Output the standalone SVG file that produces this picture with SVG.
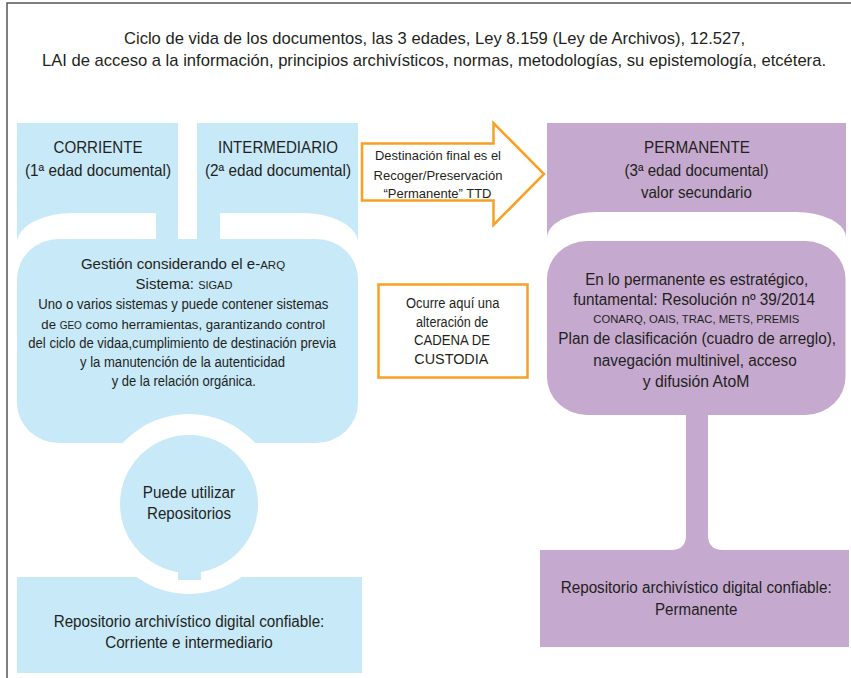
<svg xmlns="http://www.w3.org/2000/svg" width="851" height="678" viewBox="0 0 851 678">
<style>
text{font-family:"Liberation Sans",Arial,sans-serif;fill:#231f20;text-anchor:middle}
.t17{font-size:17px}
.t165{font-size:16.5px}
.t16{font-size:16px}
.t14{font-size:14px}
.t135{font-size:13.5px}
.blue{fill:#c8e9f8}
.purple{fill:#c5a9cf}
.white{fill:#ffffff}
.orange{fill:#ffffff;stroke:#f7a023;stroke-width:2.5}
</style>
<rect width="851" height="678" fill="#ffffff"/>
<path d="M7,678 V3 H851" fill="none" stroke="#555555" stroke-width="1.5"/>

<g id="title">
<text class="t17" x="434.5" y="43.5" textLength="621" lengthAdjust="spacingAndGlyphs">Ciclo de vida de los documentos, las 3 edades, Ley 8.159 (Ley de Archivos), 12.527,</text>
<text class="t17" x="434" y="65.5" textLength="784" lengthAdjust="spacingAndGlyphs">LAI de acceso a la información, principios archivísticos, normas, metodologías, su epistemología, etcétera.</text>
</g>

<g id="corriente">
<rect class="blue" x="17" y="123" width="161" height="130"/>
<text class="t165" x="98" y="153" textLength="89" lengthAdjust="spacingAndGlyphs">CORRIENTE</text>
<text class="t165" x="98" y="176" textLength="146" lengthAdjust="spacingAndGlyphs">(1ª edad documental)</text>
</g>

<g id="intermediario">
<rect class="blue" x="197" y="123" width="161" height="130"/>
<text class="t165" x="278" y="153" textLength="120" lengthAdjust="spacingAndGlyphs">INTERMEDIARIO</text>
<text class="t165" x="278" y="176" textLength="146" lengthAdjust="spacingAndGlyphs">(2ª edad documental)</text>
</g>

<g id="repositorio-corriente">
<rect class="blue" x="17" y="577" width="345" height="96"/>
<text class="t16" x="189" y="626.7" textLength="270.7" lengthAdjust="spacingAndGlyphs">Repositorio archivístico digital confiable:</text>
<text class="t16" x="189" y="648.3" textLength="167.7" lengthAdjust="spacingAndGlyphs">Corriente e intermediario</text>
</g>

<g id="gestion">
<path class="white" d="M17,262 V243 A56,30 0 0 1 73,213 H302 A56,30 0 0 1 358,243 V262 Z"/>
<rect class="blue" x="156" y="205" width="22" height="50"/>
<rect class="blue" x="197" y="205" width="23" height="50"/>
<rect class="blue" x="17" y="239" width="341" height="204" rx="42" ry="40"/>
<text style="font-size:15px" x="183" y="268.5">Gestión considerando el e-<tspan style="font-size:11.5px">ARQ</tspan></text>
<text style="font-size:15px" x="184" y="289">Sistema: <tspan style="font-size:11px">SIGAD</tspan></text>
<text class="t14" x="183.3" y="309" textLength="290" lengthAdjust="spacingAndGlyphs">Uno o varios sistemas y puede contener sistemas</text>
<text style="font-size:13.2px" x="183.3" y="328.5">de <tspan style="font-size:10px">GEO</tspan> como herramientas, garantizando control</text>
<text class="t14" x="182.2" y="347.7" textLength="307.7" lengthAdjust="spacingAndGlyphs">del ciclo de vidaa,cumplimiento de destinación previa</text>
<text class="t14" x="182.5" y="366.7" textLength="205" lengthAdjust="spacingAndGlyphs">y la manutención de la autenticidad</text>
<text class="t14" x="183.8" y="385.7" textLength="144.3" lengthAdjust="spacingAndGlyphs">y de la relación orgánica.</text>
</g>

<g id="repositorios">
<circle class="white" cx="189" cy="504" r="90"/>
<circle class="blue" cx="189" cy="504" r="69"/>
<text class="t16" x="189" y="497.7" textLength="92.3" lengthAdjust="spacingAndGlyphs">Puede utilizar</text>
<text class="t16" x="189" y="519.3" textLength="84" lengthAdjust="spacingAndGlyphs">Repositorios</text>
</g>

<g id="connectors">
<rect class="blue" x="178" y="566" width="23" height="14"/>
<path class="purple" d="M686,410 V535 Q686,550 671,550 H723 Q708,550 708,535 V410 Z"/>
</g>

<g id="destinacion">
<path class="orange" d="M362,143.5 H493.5 V123 L544,174 L493.5,225 V200.5 H362 Z"/>
<text class="t135" x="438" y="160" textLength="126" lengthAdjust="spacingAndGlyphs">Destinación final es el</text>
<text class="t135" x="438" y="179.5" textLength="129" lengthAdjust="spacingAndGlyphs">Recoger/Preservación</text>
<text class="t135" x="437.5" y="198" textLength="108" lengthAdjust="spacingAndGlyphs">“Permanente” TTD</text>
</g>

<g id="custodia">
<rect class="orange" x="378.5" y="284.5" width="149" height="93"/>
<text class="t14" x="452.7" y="307.7" textLength="93.3" lengthAdjust="spacingAndGlyphs">Ocurre aquí una</text>
<text class="t14" x="452.2" y="326.7" textLength="72.3" lengthAdjust="spacingAndGlyphs">alteración de</text>
<text class="t14" x="452" y="345" textLength="76" lengthAdjust="spacingAndGlyphs">CADENA DE</text>
<text class="t14" x="451.3" y="364" textLength="74" lengthAdjust="spacingAndGlyphs">CUSTODIA</text>
</g>

<g id="permanente">
<rect class="purple" x="547" y="123" width="299" height="130"/>
<text class="t165" x="697" y="153" textLength="106" lengthAdjust="spacingAndGlyphs">PERMANENTE</text>
<text class="t165" x="696.5" y="176" textLength="144" lengthAdjust="spacingAndGlyphs">(3ª edad documental)</text>
<text class="t165" x="696.4" y="197.5" textLength="111" lengthAdjust="spacingAndGlyphs">valor secundario</text>
</g>

<g id="estrategico">
<path class="white" d="M547,262 V238 A50,26 0 0 1 597,212 H796 A50,26 0 0 1 846,238 V262 Z"/>
<rect class="purple" x="547" y="241" width="298.5" height="174" rx="40" ry="38"/>
<text class="t16" x="696.7" y="285" textLength="223" lengthAdjust="spacingAndGlyphs">En lo permanente es estratégico,</text>
<text class="t16" x="694.2" y="305" textLength="241.7" lengthAdjust="spacingAndGlyphs">funtamental: Resolución nº 39/2014</text>
<text style="font-size:11.2px" x="696.3" y="323" textLength="206" lengthAdjust="spacingAndGlyphs">CONARQ, OAIS, TRAC, METS, PREMIS</text>
<text class="t16" x="697.2" y="344" textLength="277.7" lengthAdjust="spacingAndGlyphs">Plan de clasificación (cuadro de arreglo),</text>
<text class="t16" x="695" y="365.5" textLength="203.4" lengthAdjust="spacingAndGlyphs">navegación multinivel, acceso</text>
<text class="t16" x="696" y="386.7" textLength="106.7" lengthAdjust="spacingAndGlyphs">y difusión AtoM</text>
</g>

<g id="repositorio-permanente">
<rect class="purple" x="540" y="550" width="309" height="97"/>
<text class="t16" x="696.2" y="592.7" textLength="271" lengthAdjust="spacingAndGlyphs">Repositorio archivístico digital confiable:</text>
<text class="t16" x="696.2" y="615" textLength="82.3" lengthAdjust="spacingAndGlyphs">Permanente</text>
</g>
</svg>
